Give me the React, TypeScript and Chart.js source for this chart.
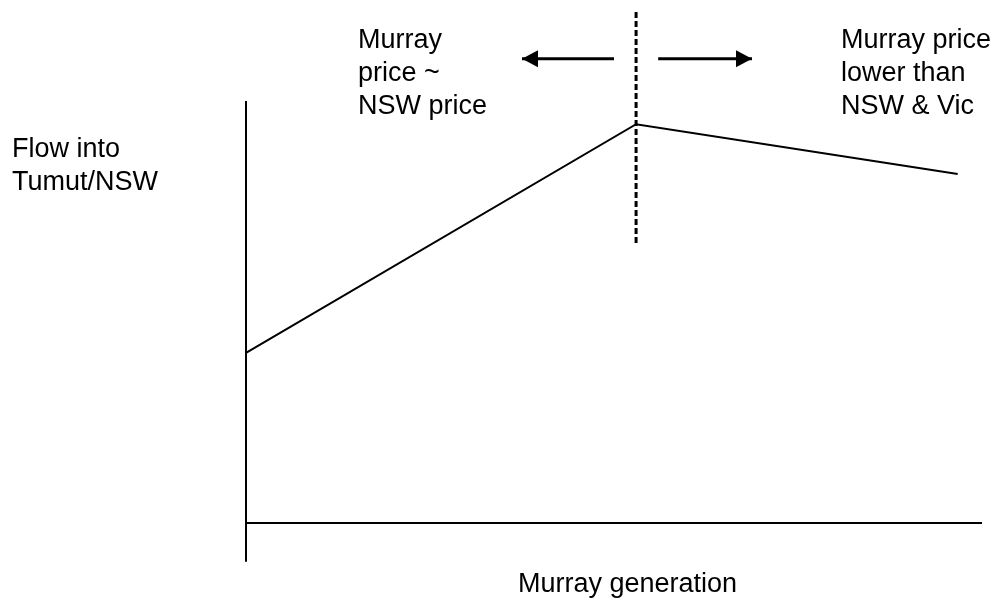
import React, { useEffect, useRef } from "react";
import { Chart, registerables } from "chart.js";

Chart.register(...registerables);

// Schematic data (generation on x, flow on y; axis drawn 0..100)
const flowX = [0, 53, 96.7];
const flowY = [40.3, 94.5, 82.7];
const yAxisX = [0, 0];
const yAxisY = [100, -9.2];
const xAxisX = [0, 100];
const xAxisY = [0, 0];
const thresholdX = [53, 53];
const thresholdY = [121.1, 66.1];
const leftArrowX = [50, 37.5];
const rightArrowX = [56, 68.75];
const arrowY = [110, 110];

const X_MIN = -33.424;
const X_MAX = 102.174;
const Y_MIN = -19.905;
const Y_MAX = 123.934;

const FONT = '27px "Liberation Sans", Arial, sans-serif';
const labels = [
  { lines: ["Murray", "price ~", "NSW price"], x: 358, y: 48 },
  { lines: ["Murray price", "lower than", "NSW & Vic"], x: 841, y: 48 },
  { lines: ["Flow into", "Tumut/NSW"], x: 12, y: 157 },
  { lines: ["Murray generation"], x: 518, y: 592 },
];
const LINE_GAP = 33;

const pts = (xs: number[], ys: number[]) => xs.map((x, i) => ({ x, y: ys[i] }));

const overlay = {
  id: "overlay",
  afterDatasetsDraw(chart: any) {
    const { ctx, scales } = chart;
    const xs = scales.x;
    const ys = scales.y;
    ctx.save();
    ctx.fillStyle = "#000";
    // arrowheads
    const heads = [
      { tip: leftArrowX[1], dir: -1 },
      { tip: rightArrowX[1], dir: 1 },
    ];
    heads.forEach((h) => {
      const px = xs.getPixelForValue(h.tip);
      const py = ys.getPixelForValue(arrowY[1]);
      ctx.beginPath();
      ctx.moveTo(px, py);
      ctx.lineTo(px - h.dir * 16, py - 8.5);
      ctx.lineTo(px - h.dir * 16, py + 8.5);
      ctx.closePath();
      ctx.fill();
    });
    // text
    ctx.font = FONT;
    ctx.textAlign = "left";
    ctx.textBaseline = "alphabetic";
    labels.forEach((l) => {
      l.lines.forEach((t, i) => ctx.fillText(t, l.x, l.y + i * LINE_GAP));
    });
    ctx.restore();
  },
};

export default function App() {
  const ref = useRef<HTMLCanvasElement>(null);
  useEffect(() => {
    document.body.style.margin = "0";
    const common = { pointRadius: 0, fill: false, clip: false as any, tension: 0 };
    const chart = new Chart(ref.current!, {
      type: "scatter",
      data: {
        datasets: [
          { ...common, data: pts(yAxisX, yAxisY), showLine: true, borderColor: "#000", borderWidth: 2 },
          { ...common, data: pts(xAxisX, xAxisY), showLine: true, borderColor: "#000", borderWidth: 2 },
          { ...common, data: pts(flowX, flowY), showLine: true, borderColor: "#000", borderWidth: 2 },
          { ...common, data: pts(thresholdX, thresholdY), showLine: true, borderColor: "#000", borderWidth: 3, borderDash: [6, 3] },
          { ...common, data: pts(leftArrowX, arrowY), showLine: true, borderColor: "#000", borderWidth: 3 },
          { ...common, data: pts(rightArrowX, arrowY), showLine: true, borderColor: "#000", borderWidth: 3 },
        ],
      },
      options: {
        animation: false,
        responsive: true,
        maintainAspectRatio: false,
        layout: { padding: 0, autoPadding: false },
        plugins: { legend: { display: false }, tooltip: { enabled: false } },
        events: [],
        scales: {
          x: { type: "linear", display: false, min: X_MIN, max: X_MAX },
          y: { type: "linear", display: false, min: Y_MIN, max: Y_MAX },
        },
      },
      plugins: [overlay],
    });
    return () => chart.destroy();
  }, []);
  return (
    <div style={{ position: "fixed", left: 0, top: 0, width: 998, height: 607, background: "#fff" }}>
      <canvas ref={ref} />
    </div>
  );
}
